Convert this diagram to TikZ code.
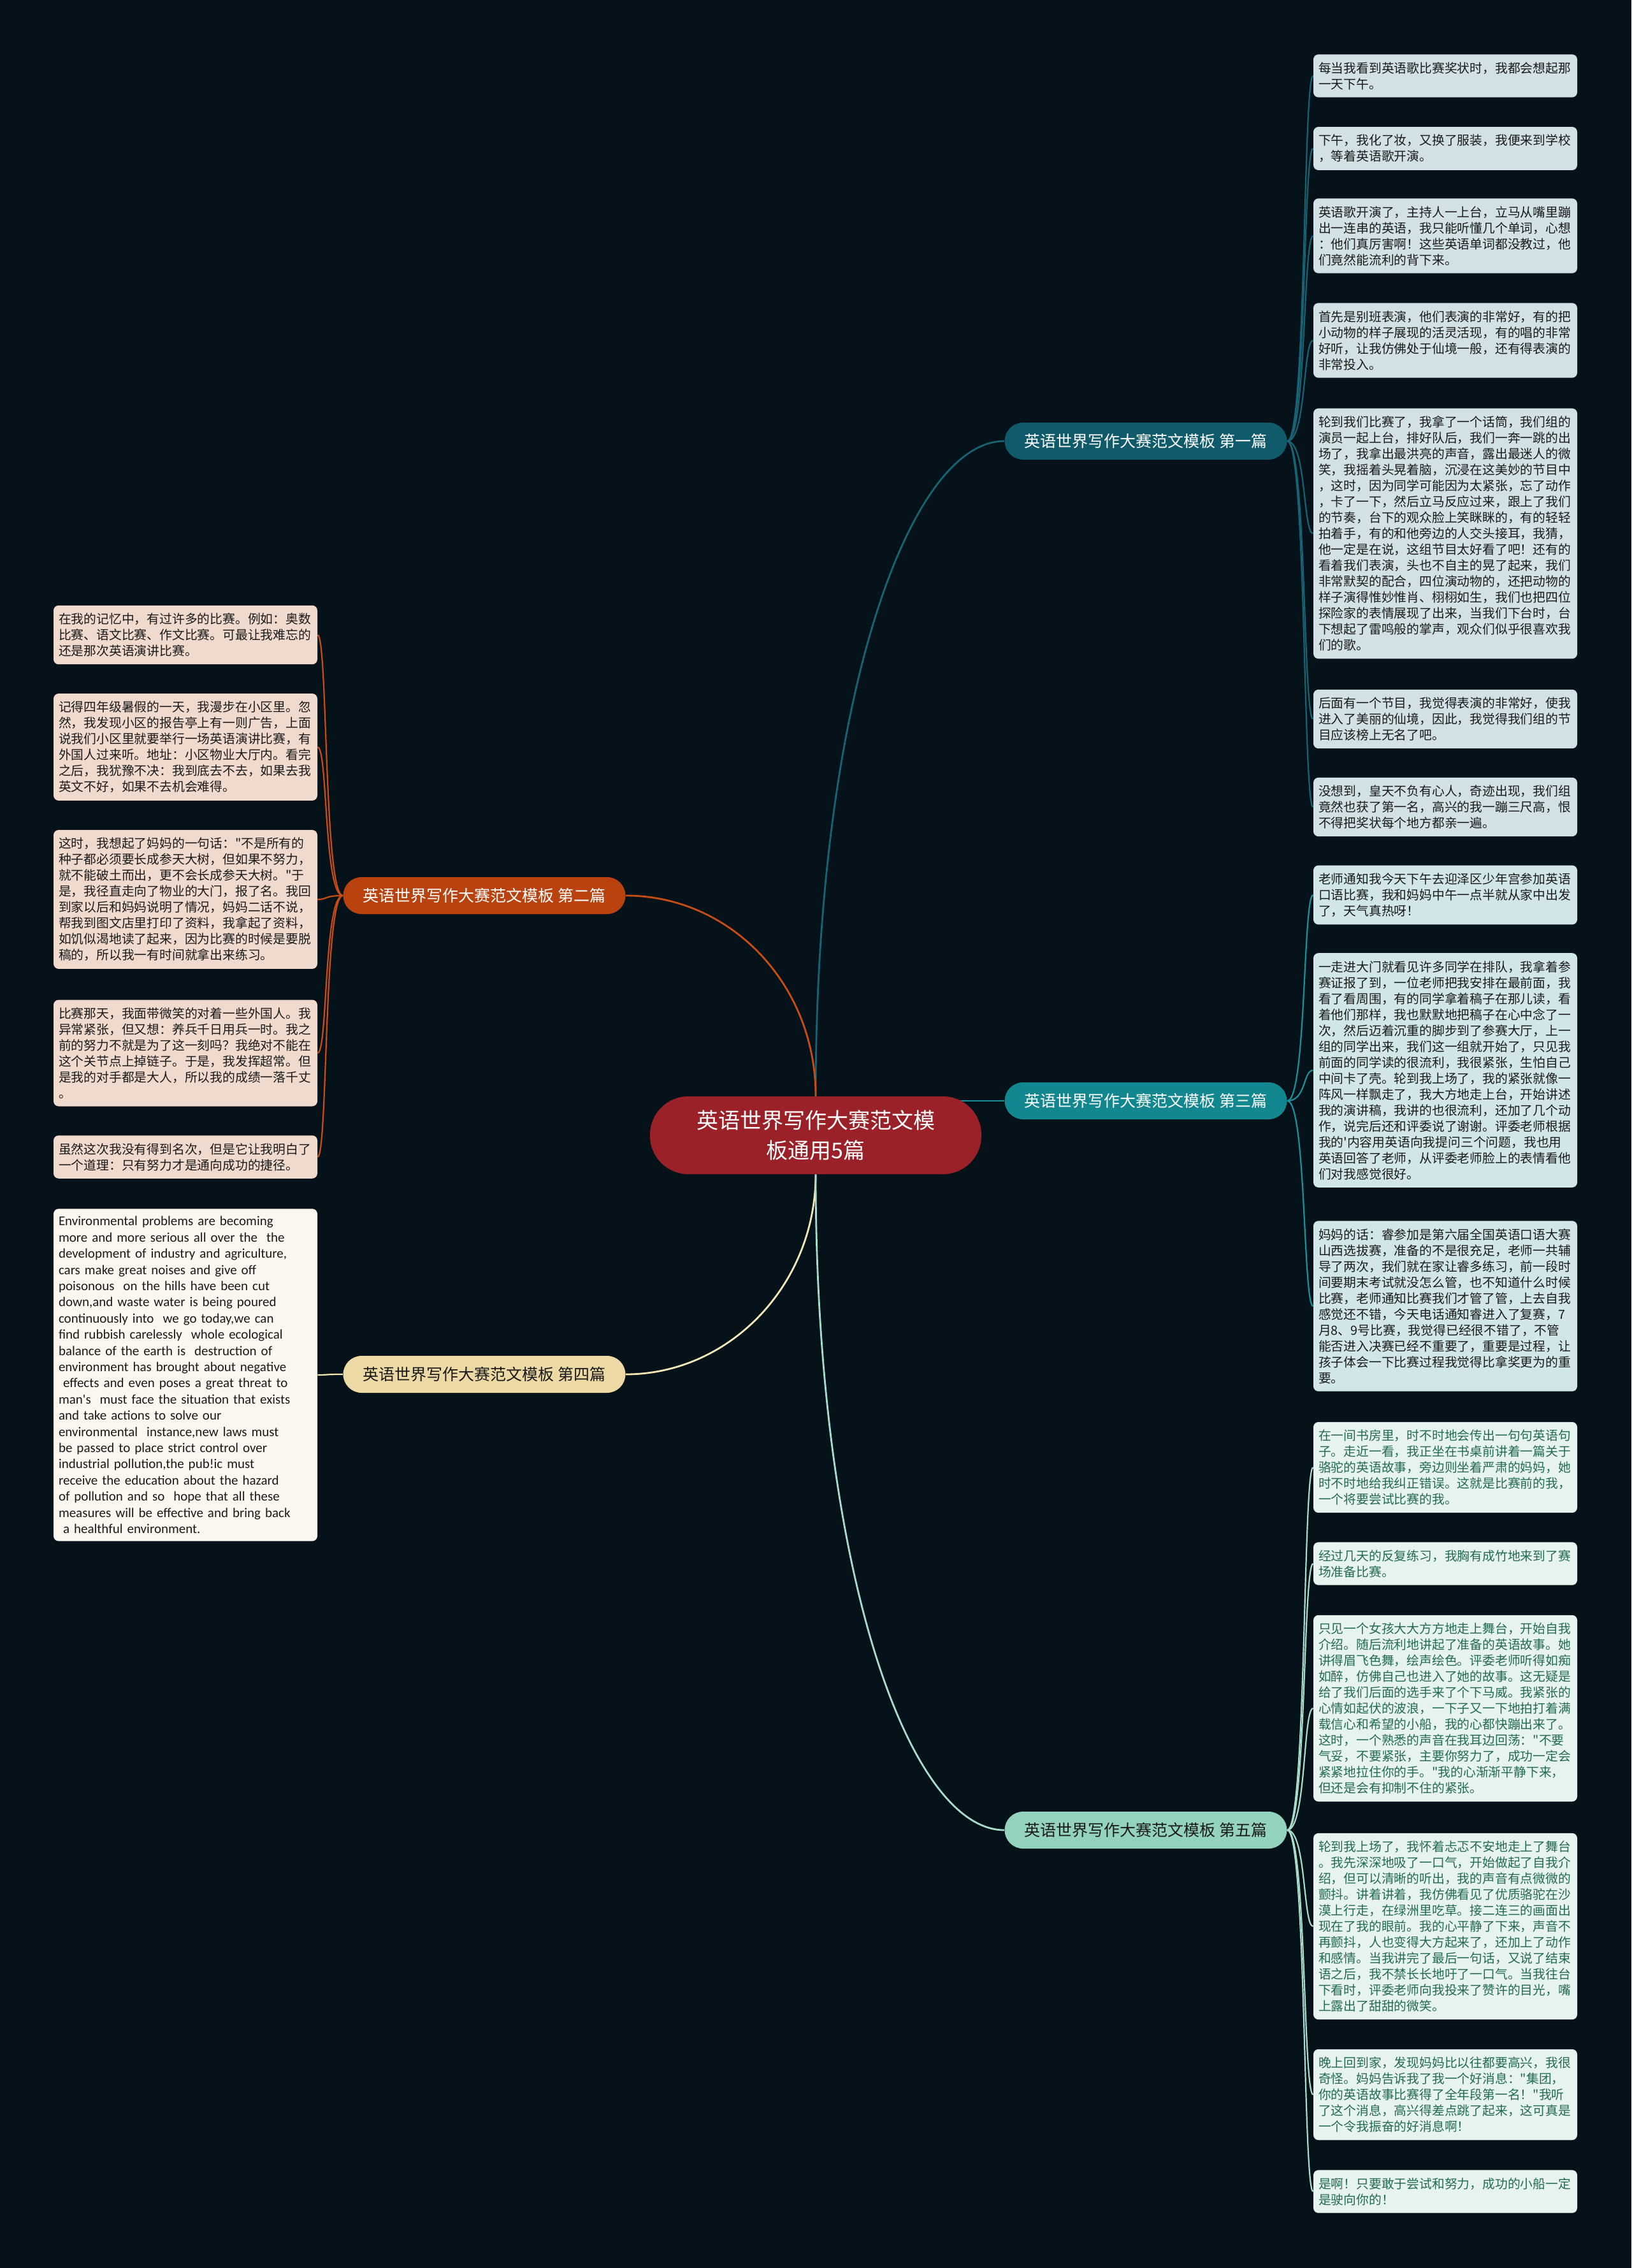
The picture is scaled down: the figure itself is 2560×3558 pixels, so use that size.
\documentclass[tikz,border=0pt]{standalone}
\usepackage{fontspec}
\usepackage{xcolor}
\usepackage{tikz}
\setmainfont{Noto Sans CJK SC}[Ligatures=TeXOff]
\newfontfamily\latinfont{Carlito}[Ligatures=TeXOff]
\definecolor{bgdark}{HTML}{05121A}
\definecolor{rootred}{HTML}{9A2128}
\definecolor{onefill}{HTML}{0F5A6B}
\definecolor{oneline}{HTML}{176273}
\definecolor{oneleaf}{HTML}{D1E1E5}
\definecolor{twofill}{HTML}{B9420F}
\definecolor{twoline}{HTML}{C84D14}
\definecolor{twoleaf}{HTML}{F0D9CD}
\definecolor{threefill}{HTML}{13878F}
\definecolor{threeline}{HTML}{1A9098}
\definecolor{threeleaf}{HTML}{D0E6E8}
\definecolor{fourfill}{HTML}{EDD9A3}
\definecolor{fourline}{HTML}{F3E7B6}
\definecolor{fourleaf}{HTML}{FBF7EF}
\definecolor{fivefill}{HTML}{93D3BD}
\definecolor{fiveline}{HTML}{A9DCC8}
\definecolor{fiveleaf}{HTML}{E7F3EF}
\definecolor{fivetext}{HTML}{226B50}
\definecolor{darktext}{HTML}{1A1A1A}
\pgfdeclarelayer{bg}
\pgfdeclarelayer{wires}
\pgfsetlayers{bg,wires,main}

\begin{document}
\begin{tikzpicture}[
  x=0.5pt, y=-0.5pt,
  rootbox/.style={rectangle, rounded corners=30pt, fill=rootred, text=white,
                  minimum width=260pt, minimum height=61pt, align=center,
                  font=\fontsize{17pt}{23.5pt}\selectfont},
  branchbox/.style={rectangle, rounded corners=14.5pt, minimum width=221.5pt,
                    minimum height=29pt, inner sep=0pt,
                    font=\fontsize{12.5pt}{15pt}\selectfont},
  leafbox/.style={rectangle, rounded corners=4pt, text width=199pt, align=left,
                  inner xsep=4pt, inner ysep=6pt, text=darktext,
                  font=\fontsize{9.9pt}{12.5pt}\selectfont},
  trunk/.style={line width=1.4pt},
  twig/.style={line width=1.1pt}
]
  \useasboundingbox (0,0) rectangle (2560,3558);

  % 中心
  \node[rootbox] (root) at (1280,1781) {英语世界写作大赛范文模\\板通用5篇};

  % 分支
  \node[branchbox, fill=onefill, text=white] (first) at (1798,692) {英语世界写作大赛范文模板 第一篇};
  \node[branchbox, fill=twofill, text=white] (second) at (760,1405) {英语世界写作大赛范文模板 第二篇};
  \node[branchbox, fill=threefill, text=white] (third) at (1798,1727) {英语世界写作大赛范文模板 第三篇};
  \node[branchbox, fill=fourfill, text=darktext] (fourth) at (760,2156) {英语世界写作大赛范文模板 第四篇};
  \node[branchbox, fill=fivefill, text=darktext] (fifth) at (1798,2871) {英语世界写作大赛范文模板 第五篇};

  % 第一篇
  \node[leafbox, fill=oneleaf] (p1a) at (2268,119) {每当我看到英语歌比赛奖状时，我都会想起那\\一天下午。};
  \node[leafbox, fill=oneleaf] (p1b) at (2268,233) {下午，我化了妆，又换了服装，我便来到学校\\，等着英语歌开演。};
  \node[leafbox, fill=oneleaf] (p1c) at (2268,370) {英语歌开演了，主持人一上台，立马从嘴里蹦\\出一连串的英语，我只能听懂几个单词，心想\\：他们真厉害啊！这些英语单词都没教过，他\\们竟然能流利的背下来。};
  \node[leafbox, fill=oneleaf] (p1d) at (2268,534) {首先是别班表演，他们表演的非常好，有的把\\小动物的样子展现的活灵活现，有的唱的非常\\好听，让我仿佛处于仙境一般，还有得表演的\\非常投入。};
  \node[leafbox, fill=oneleaf] (p1e) at (2268,837) {轮到我们比赛了，我拿了一个话筒，我们组的\\演员一起上台，排好队后，我们一奔一跳的出\\场了，我拿出最洪亮的声音，露出最迷人的微\\笑，我摇着头晃着脑，沉浸在这美妙的节目中\\，这时，因为同学可能因为太紧张，忘了动作\\，卡了一下，然后立马反应过来，跟上了我们\\的节奏，台下的观众脸上笑眯眯的，有的轻轻\\拍着手，有的和他旁边的人交头接耳，我猜，\\他一定是在说，这组节目太好看了吧！还有的\\看着我们表演，头也不自主的晃了起来，我们\\非常默契的配合，四位演动物的，还把动物的\\样子演得惟妙惟肖、栩栩如生，我们也把四位\\探险家的表情展现了出来，当我们下台时，台\\下想起了雷鸣般的掌声，观众们似乎很喜欢我\\们的歌。};
  \node[leafbox, fill=oneleaf] (p1f) at (2268,1128) {后面有一个节目，我觉得表演的非常好，使我\\进入了美丽的仙境，因此，我觉得我们组的节\\目应该榜上无名了吧。};
  \node[leafbox, fill=oneleaf] (p1g) at (2268,1266) {没想到，皇天不负有心人，奇迹出现，我们组\\竟然也获了第一名，高兴的我一蹦三尺高，恨\\不得把奖状每个地方都亲一遍。};

  % 第三篇
  \node[leafbox, fill=threeleaf] (p3a) at (2268,1404) {老师通知我今天下午去迎泽区少年宫参加英语\\口语比赛，我和妈妈中午一点半就从家中出发\\了，天气真热呀！};
  \node[leafbox, fill=threeleaf] (p3b) at (2268,1679) {一走进大门就看见许多同学在排队，我拿着参\\赛证报了到，一位老师把我安排在最前面，我\\看了看周围，有的同学拿着稿子在那儿读，看\\着他们那样，我也默默地把稿子在心中念了一\\次，然后迈着沉重的脚步到了参赛大厅，上一\\组的同学出来，我们这一组就开始了，只见我\\前面的同学读的很流利，我很紧张，生怕自己\\中间卡了壳。轮到我上场了，我的紧张就像一\\阵风一样飘走了，我大方地走上台，开始讲述\\我的演讲稿，我讲的也很流利，还加了几个动\\作，说完后还和评委说了谢谢。评委老师根据\\我的'内容用英语向我提问三个问题，我也用\\英语回答了老师，从评委老师脸上的表情看他\\们对我感觉很好。};
  \node[leafbox, fill=threeleaf] (p3c) at (2268,2049) {妈妈的话：睿参加是第六届全国英语口语大赛\\山西选拔赛，准备的不是很充足，老师一共辅\\导了两次，我们就在家让睿多练习，前一段时\\间要期末考试就没怎么管，也不知道什么时候\\比赛，老师通知比赛我们才管了管，上去自我\\感觉还不错，今天电话通知睿进入了复赛，7\\月8、9号比赛，我觉得已经很不错了，不管\\能否进入决赛已经不重要了，重要是过程，让\\孩子体会一下比赛过程我觉得比拿奖更为的重\\要。};

  % 第五篇
  \node[leafbox, fill=fiveleaf, text=fivetext] (p5a) at (2268,2302) {在一间书房里，时不时地会传出一句句英语句\\子。走近一看，我正坐在书桌前讲着一篇关于\\骆驼的英语故事，旁边则坐着严肃的妈妈，她\\时不时地给我纠正错误。这就是比赛前的我，\\一个将要尝试比赛的我。};
  \node[leafbox, fill=fiveleaf, text=fivetext] (p5b) at (2268,2453) {经过几天的反复练习，我胸有成竹地来到了赛\\场准备比赛。};
  \node[leafbox, fill=fiveleaf, text=fivetext] (p5c) at (2268,2680) {只见一个女孩大大方方地走上舞台，开始自我\\介绍。随后流利地讲起了准备的英语故事。她\\讲得眉飞色舞，绘声绘色。评委老师听得如痴\\如醉，仿佛自己也进入了她的故事。这无疑是\\给了我们后面的选手来了个下马威。我紧张的\\心情如起伏的波浪，一下子又一下地拍打着满\\载信心和希望的小船，我的心都快蹦出来了。\\这时，一个熟悉的声音在我耳边回荡："不要\\气妥，不要紧张，主要你努力了，成功一定会\\紧紧地拉住你的手。"我的心渐渐平静下来，\\但还是会有抑制不住的紧张。};
  \node[leafbox, fill=fiveleaf, text=fivetext] (p5d) at (2268,3022) {轮到我上场了，我怀着忐忑不安地走上了舞台\\。我先深深地吸了一口气，开始做起了自我介\\绍，但可以清晰的听出，我的声音有点微微的\\颤抖。讲着讲着，我仿佛看见了优质骆驼在沙\\漠上行走，在绿洲里吃草。接二连三的画面出\\现在了我的眼前。我的心平静了下来，声音不\\再颤抖，人也变得大方起来了，还加上了动作\\和感情。当我讲完了最后一句话，又说了结束\\语之后，我不禁长长地吁了一口气。当我往台\\下看时，评委老师向我投来了赞许的目光，嘴\\上露出了甜甜的微笑。};
  \node[leafbox, fill=fiveleaf, text=fivetext] (p5e) at (2268,3286) {晚上回到家，发现妈妈比以往都要高兴，我很\\奇怪。妈妈告诉我了我一个好消息："集团，\\你的英语故事比赛得了全年段第一名！"我听\\了这个消息，高兴得差点跳了起来，这可真是\\一个令我振奋的好消息啊！};
  \node[leafbox, fill=fiveleaf, text=fivetext] (p5f) at (2268,3438) {是啊！只要敢于尝试和努力，成功的小船一定\\是驶向你的！};

  % 第二篇
  \node[leafbox, fill=twoleaf] (p2a) at (291,996) {在我的记忆中，有过许多的比赛。例如：奥数\\比赛、语文比赛、作文比赛。可最让我难忘的\\还是那次英语演讲比赛。};
  \node[leafbox, fill=twoleaf] (p2b) at (291,1172) {记得四年级暑假的一天，我漫步在小区里。忽\\然，我发现小区的报告亭上有一则广告，上面\\说我们小区里就要举行一场英语演讲比赛，有\\外国人过来听。地址：小区物业大厅内。看完\\之后，我犹豫不决：我到底去不去，如果去我\\英文不好，如果不去机会难得。};
  \node[leafbox, fill=twoleaf] (p2c) at (291,1411) {这时，我想起了妈妈的一句话："不是所有的\\种子都必须要长成参天大树，但如果不努力，\\就不能破土而出，更不会长成参天大树。"于\\是，我径直走向了物业的大门，报了名。我回\\到家以后和妈妈说明了情况，妈妈二话不说，\\帮我到图文店里打印了资料，我拿起了资料，\\如饥似渴地读了起来，因为比赛的时候是要脱\\稿的，所以我一有时间就拿出来练习。};
  \node[leafbox, fill=twoleaf] (p2d) at (291,1652) {比赛那天，我面带微笑的对着一些外国人。我\\异常紧张，但又想：养兵千日用兵一时。我之\\前的努力不就是为了这一刻吗？我绝对不能在\\这个关节点上掉链子。于是，我发挥超常。但\\是我的对手都是大人，所以我的成绩一落千丈\\。};
  \node[leafbox, fill=twoleaf] (p2e) at (291,1815) {虽然这次我没有得到名次，但是它让我明白了\\一个道理：只有努力才是通向成功的捷径。};

  % 第四篇
  \node[leafbox, fill=fourleaf, font=\latinfont\fontsize{10.5pt}{12.7pt}\selectfont] (p4a) at (291,2157) {Environmental problems are becoming\\more and more serious all over the \ the\\development of industry and agriculture,\\cars make great noises and give off\\poisonous \ on the hills have been cut\\down,and waste water is being poured\\continuously into \ we go today,we can\\find rubbish carelessly \ whole ecological\\balance of the earth is \ destruction of\\environment has brought about negative\\~effects and even poses a great threat to\\man's \ must face the situation that exists\\and take actions to solve our\\environmental \ instance,new laws must\\be passed to place strict control over\\industrial pollution,the pub!ic must\\receive the education about the hazard\\of pollution and so \ hope that all these\\measures will be effective and bring back\\~a healthful environment.};

  % 连线
  \begin{pgfonlayer}{bg}
    \fill[bgdark] (0,0) rectangle (2560,3558);
  \end{pgfonlayer}
  \begin{pgfonlayer}{wires}
    \draw[trunk, oneline] (root.north) .. controls +(0,-620) and +(-150,0) .. (first.west);
    \draw[trunk, twoline] (root.north) .. controls +(0,-175) and +(165,0) .. (second.east);
    \draw[trunk, threeline] (root.center |- third.west) -- (third.west);
    \draw[trunk, fourline] (root.south) .. controls +(0,173) and +(163,0) .. (fourth.east);
    \draw[trunk, fiveline] (root.south) .. controls +(0,620) and +(-150,0) .. (fifth.west);

    \draw[twig, oneline] (first.east) .. controls +(30,0) and +(-16,0) .. (p1a.west);
    \draw[twig, oneline] (first.east) .. controls +(30,0) and +(-16,0) .. (p1b.west);
    \draw[twig, oneline] (first.east) .. controls +(30,0) and +(-16,0) .. (p1c.west);
    \draw[twig, oneline] (first.east) .. controls +(30,0) and +(-16,0) .. (p1d.west);
    \draw[twig, oneline] (first.east) .. controls +(30,0) and +(-16,0) .. (p1e.west);
    \draw[twig, oneline] (first.east) .. controls +(30,0) and +(-16,0) .. (p1f.west);
    \draw[twig, oneline] (first.east) .. controls +(30,0) and +(-16,0) .. (p1g.west);

    \draw[twig, threeline] (third.east) .. controls +(30,0) and +(-16,0) .. (p3a.west);
    \draw[twig, threeline] (third.east) .. controls +(30,0) and +(-16,0) .. (p3b.west);
    \draw[twig, threeline] (third.east) .. controls +(30,0) and +(-16,0) .. (p3c.west);

    \draw[twig, fiveline] (fifth.east) .. controls +(30,0) and +(-16,0) .. (p5a.west);
    \draw[twig, fiveline] (fifth.east) .. controls +(30,0) and +(-16,0) .. (p5b.west);
    \draw[twig, fiveline] (fifth.east) .. controls +(30,0) and +(-16,0) .. (p5c.west);
    \draw[twig, fiveline] (fifth.east) .. controls +(30,0) and +(-16,0) .. (p5d.west);
    \draw[twig, fiveline] (fifth.east) .. controls +(30,0) and +(-16,0) .. (p5e.west);
    \draw[twig, fiveline] (fifth.east) .. controls +(30,0) and +(-16,0) .. (p5f.west);

    \draw[twig, twoline] (second.west) .. controls +(-30,0) and +(16,0) .. (p2a.east);
    \draw[twig, twoline] (second.west) .. controls +(-30,0) and +(16,0) .. (p2b.east);
    \draw[twig, twoline] (second.west) .. controls +(-30,0) and +(16,0) .. (p2c.east);
    \draw[twig, twoline] (second.west) .. controls +(-30,0) and +(16,0) .. (p2d.east);
    \draw[twig, twoline] (second.west) .. controls +(-30,0) and +(16,0) .. (p2e.east);

    \draw[twig, fourline] (fourth.west) .. controls +(-30,0) and +(16,0) .. (p4a.east);
  \end{pgfonlayer}
\end{tikzpicture}
\end{document}
